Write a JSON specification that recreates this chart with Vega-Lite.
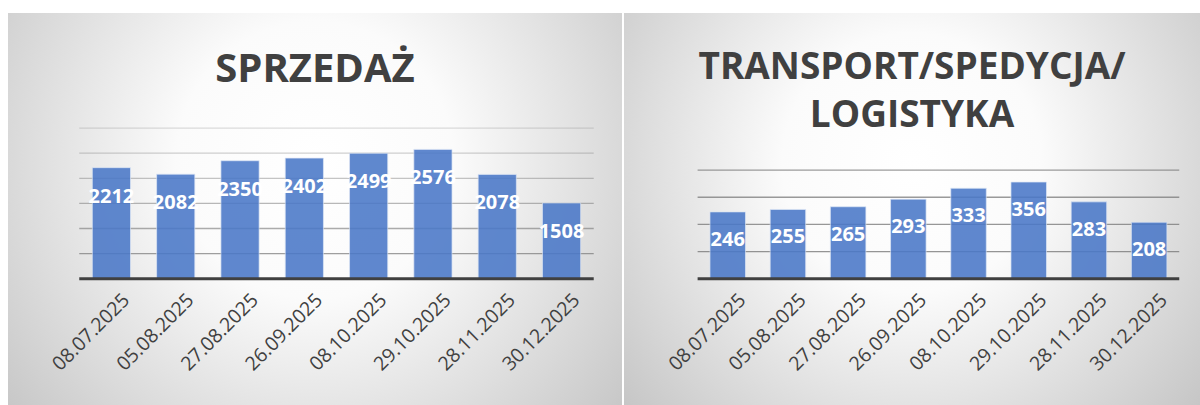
{
  "$schema": "https://vega.github.io/schema/vega-lite/v6.json",
  "padding": {"left": 8, "top": 13, "right": 0, "bottom": 0},
  "background": "#ffffff",
  "spacing": 2,
  "config": {"view": {"stroke": null}, "font": "Open Sans"},
  "hconcat": [
    {
      "width": 614,
      "height": 392,
      "view": {"stroke": null, "fill": {"expr": "{gradient: 'radial', x1: 0.5, y1: 0.42, x2: 0.5, y2: 0.42, r1: 0, r2: 0.75, stops: [{offset: 0, color: '#ffffff'}, {offset: 0.3, color: '#fbfbfb'}, {offset: 1, color: '#bababa'}]}"}},
      "title": {"text": "SPRZEDAŻ", "font": "Open Sans", "fontSize": 40, "fontWeight": "bold", "color": "#404040", "anchor": "middle", "baseline": "alphabetic", "offset": -109},
      "layer": [
        {
          "data": {"values": [
            {"v": 500, "a": "08.07.2025", "b": "30.12.2025"},
            {"v": 1000, "a": "08.07.2025", "b": "30.12.2025"},
            {"v": 1500, "a": "08.07.2025", "b": "30.12.2025"},
            {"v": 2000, "a": "08.07.2025", "b": "30.12.2025"},
            {"v": 2500, "a": "08.07.2025", "b": "30.12.2025"},
            {"v": 3000, "a": "08.07.2025", "b": "30.12.2025"}
          ]},
          "mark": {"type": "rule", "strokeWidth": 1.3, "color": "#7a7a7a"},
          "encoding": {
            "x": {"field": "a", "type": "nominal", "bandPosition": -0.342, "title": null,
              "scale": {"domain": ["08.07.2025","05.08.2025","27.08.2025","26.09.2025","08.10.2025","29.10.2025","28.11.2025","30.12.2025"], "paddingInner": 0.406, "paddingOuter": 0.977, "align": 0.671},
              "axis": {"orient": "bottom", "offset": -126.3, "domain": false, "ticks": false, "grid": false, "labelAngle": -45, "labelAlign": "right", "labelBaseline": "middle", "labelPadding": 18, "labelOffset": 15, "labelFontSize": 19.5, "labelFont": "Open Sans", "labelColor": "#404040", "labelOverlap": false, "zindex": 2}},
            "x2": {"field": "b", "bandPosition": 1.342},
            "y": {"field": "v", "type": "quantitative", "axis": null, "scale": {"domain": [-2516, 5293], "nice": false, "zero": false}},
            "opacity": {"field": "v", "type": "quantitative", "legend": null, "scale": {"domain": [500, 3000], "range": [0.8, 0.25]}}
          }
        },
        {
          "data": {"values": [
            {"d": "08.07.2025", "value": 2212},
            {"d": "05.08.2025", "value": 2082},
            {"d": "27.08.2025", "value": 2350},
            {"d": "26.09.2025", "value": 2402},
            {"d": "08.10.2025", "value": 2499},
            {"d": "29.10.2025", "value": 2576},
            {"d": "28.11.2025", "value": 2078},
            {"d": "30.12.2025", "value": 1508}
          ]},
          "layer": [
            {
              "mark": {"type": "bar", "color": "#4a78c8", "opacity": 0.88, "stroke": "#dce6f5", "strokeWidth": 1, "strokeOpacity": 0.7},
              "encoding": {
                "x": {"field": "d", "type": "nominal", "title": null,
                  "scale": {"domain": ["08.07.2025","05.08.2025","27.08.2025","26.09.2025","08.10.2025","29.10.2025","28.11.2025","30.12.2025"], "paddingInner": 0.406, "paddingOuter": 0.977, "align": 0.671}},
                "y": {"field": "value", "type": "quantitative", "axis": null, "scale": {"domain": [-2516, 5293], "nice": false, "zero": false}}
              }
            },
            {
              "mark": {"type": "text", "dy": 29, "color": "#ffffff", "fontWeight": "bold", "fontSize": 20, "font": "Open Sans", "baseline": "middle", "align": "center"},
              "encoding": {
                "x": {"field": "d", "type": "nominal", "title": null,
                  "scale": {"domain": ["08.07.2025","05.08.2025","27.08.2025","26.09.2025","08.10.2025","29.10.2025","28.11.2025","30.12.2025"], "paddingInner": 0.406, "paddingOuter": 0.977, "align": 0.671}},
                "y": {"field": "value", "type": "quantitative", "axis": null, "scale": {"domain": [-2516, 5293], "nice": false, "zero": false}},
                "text": {"field": "value", "type": "quantitative"}
              }
            }
          ]
        },
        {
          "data": {"values": [{"v": 0, "a": "08.07.2025", "b": "30.12.2025"}]},
          "mark": {"type": "rule", "strokeWidth": 3, "color": "#404040"},
          "encoding": {
            "x": {"field": "a", "type": "nominal", "bandPosition": -0.342, "title": null,
              "scale": {"domain": ["08.07.2025","05.08.2025","27.08.2025","26.09.2025","08.10.2025","29.10.2025","28.11.2025","30.12.2025"], "paddingInner": 0.406, "paddingOuter": 0.977, "align": 0.671}},
            "x2": {"field": "b", "bandPosition": 1.342},
            "y": {"field": "v", "type": "quantitative", "axis": null, "scale": {"domain": [-2516, 5293], "nice": false, "zero": false}}
          }
        }
      ]
    },
    {
      "width": 576,
      "height": 392,
      "view": {"stroke": null, "fill": {"expr": "{gradient: 'radial', x1: 0.5, y1: 0.42, x2: 0.5, y2: 0.42, r1: 0, r2: 0.75, stops: [{offset: 0, color: '#ffffff'}, {offset: 0.3, color: '#fbfbfb'}, {offset: 1, color: '#bababa'}]}"}},
      "title": {"text": ["TRANSPORT/SPEDYCJA/", "LOGISTYKA"], "font": "Open Sans", "fontSize": 37, "fontWeight": "bold", "color": "#404040", "anchor": "middle", "baseline": "alphabetic", "lineHeight": 48, "offset": -151},
      "layer": [
        {
          "data": {"values": [
            {"v": 100, "a": "08.07.2025", "b": "30.12.2025"},
            {"v": 200, "a": "08.07.2025", "b": "30.12.2025"},
            {"v": 300, "a": "08.07.2025", "b": "30.12.2025"},
            {"v": 400, "a": "08.07.2025", "b": "30.12.2025"}
          ]},
          "mark": {"type": "rule", "strokeWidth": 1.3, "color": "#7a7a7a"},
          "encoding": {
            "x": {"field": "a", "type": "nominal", "bandPosition": -0.348, "title": null,
              "scale": {"domain": ["08.07.2025","05.08.2025","27.08.2025","26.09.2025","08.10.2025","29.10.2025","28.11.2025","30.12.2025"], "paddingInner": 0.41, "paddingOuter": 0.989, "align": 0.722},
              "axis": {"orient": "bottom", "offset": -126.3, "domain": false, "ticks": false, "grid": false, "labelAngle": -45, "labelAlign": "right", "labelBaseline": "middle", "labelPadding": 18, "labelOffset": 15, "labelFontSize": 19.5, "labelFont": "Open Sans", "labelColor": "#404040", "labelOverlap": false, "zindex": 2}},
            "x2": {"field": "b", "bandPosition": 1.348},
            "y": {"field": "v", "type": "quantitative", "axis": null, "scale": {"domain": [-465.2, 978.6], "nice": false, "zero": false}},
            "opacity": {"field": "v", "type": "quantitative", "legend": null, "scale": {"domain": [100, 400], "range": [0.8, 0.25]}}
          }
        },
        {
          "data": {"values": [
            {"d": "08.07.2025", "value": 246},
            {"d": "05.08.2025", "value": 255},
            {"d": "27.08.2025", "value": 265},
            {"d": "26.09.2025", "value": 293},
            {"d": "08.10.2025", "value": 333},
            {"d": "29.10.2025", "value": 356},
            {"d": "28.11.2025", "value": 283},
            {"d": "30.12.2025", "value": 208}
          ]},
          "layer": [
            {
              "mark": {"type": "bar", "color": "#4a78c8", "opacity": 0.88, "stroke": "#dce6f5", "strokeWidth": 1, "strokeOpacity": 0.7},
              "encoding": {
                "x": {"field": "d", "type": "nominal", "title": null,
                  "scale": {"domain": ["08.07.2025","05.08.2025","27.08.2025","26.09.2025","08.10.2025","29.10.2025","28.11.2025","30.12.2025"], "paddingInner": 0.41, "paddingOuter": 0.989, "align": 0.722}},
                "y": {"field": "value", "type": "quantitative", "axis": null, "scale": {"domain": [-465.2, 978.6], "nice": false, "zero": false}}
              }
            },
            {
              "mark": {"type": "text", "dy": 28, "color": "#ffffff", "fontWeight": "bold", "fontSize": 20, "font": "Open Sans", "baseline": "middle", "align": "center"},
              "encoding": {
                "x": {"field": "d", "type": "nominal", "title": null,
                  "scale": {"domain": ["08.07.2025","05.08.2025","27.08.2025","26.09.2025","08.10.2025","29.10.2025","28.11.2025","30.12.2025"], "paddingInner": 0.41, "paddingOuter": 0.989, "align": 0.722}},
                "y": {"field": "value", "type": "quantitative", "axis": null, "scale": {"domain": [-465.2, 978.6], "nice": false, "zero": false}},
                "text": {"field": "value", "type": "quantitative"}
              }
            }
          ]
        },
        {
          "data": {"values": [{"v": 0, "a": "08.07.2025", "b": "30.12.2025"}]},
          "mark": {"type": "rule", "strokeWidth": 3, "color": "#404040"},
          "encoding": {
            "x": {"field": "a", "type": "nominal", "bandPosition": -0.348, "title": null,
              "scale": {"domain": ["08.07.2025","05.08.2025","27.08.2025","26.09.2025","08.10.2025","29.10.2025","28.11.2025","30.12.2025"], "paddingInner": 0.41, "paddingOuter": 0.989, "align": 0.722}},
            "x2": {"field": "b", "bandPosition": 1.348},
            "y": {"field": "v", "type": "quantitative", "axis": null, "scale": {"domain": [-465.2, 978.6], "nice": false, "zero": false}}
          }
        }
      ]
    }
  ]
}
